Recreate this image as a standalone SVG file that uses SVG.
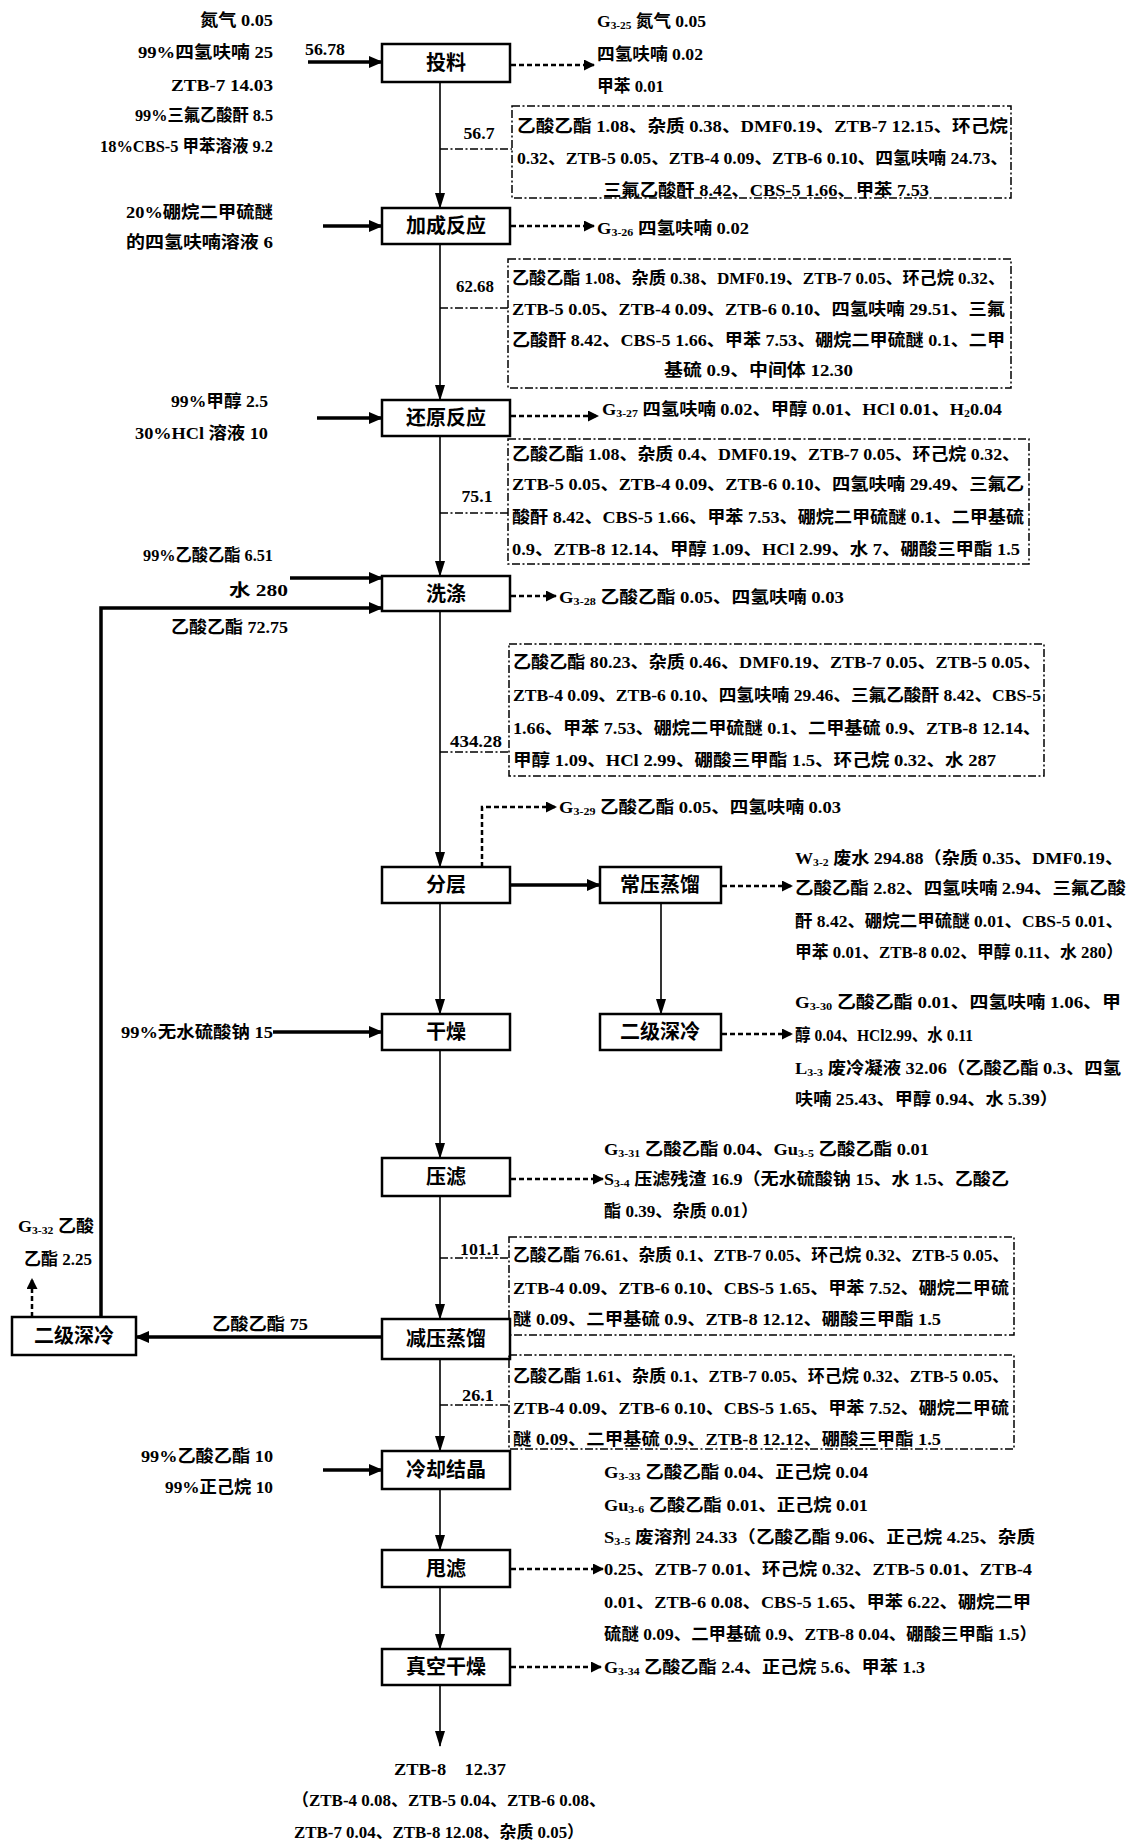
<svg xmlns="http://www.w3.org/2000/svg" width="1130" height="1843" viewBox="0 0 1130 1843">
<style>
text{font-family:"Liberation Serif","Noto Sans CJK SC",serif;font-weight:bold;font-size:17px;fill:#000;dominant-baseline:central}
.b{font-size:20px;text-anchor:middle}
.e{text-anchor:end}
.m{text-anchor:middle}
.s{font-size:11px}
.box{fill:#fff;stroke:#000;stroke-width:2.5}
.dd{fill:none;stroke:#000;stroke-width:1.5;stroke-dasharray:8 2.5 2 2.5}
.sol{fill:none;stroke:#000;stroke-width:3.5}
.thin{fill:none;stroke:#000;stroke-width:1.6}
.dash{fill:none;stroke:#000;stroke-width:2.5;stroke-dasharray:5 3}
</style>
<defs>
<marker id="ah" markerUnits="userSpaceOnUse" markerWidth="14" markerHeight="12" refX="13" refY="6" orient="auto"><path d="M0,0 L14,6 L0,12 z" fill="#000"/></marker>
<marker id="av" markerUnits="userSpaceOnUse" markerWidth="16" markerHeight="10" refX="15" refY="5" orient="auto"><path d="M0,0 L16,5 L0,10 z" fill="#000"/></marker>
<marker id="ad" markerUnits="userSpaceOnUse" markerWidth="11" markerHeight="11" refX="10" refY="5.5" orient="auto"><path d="M0,0 L11,5.5 L0,11 z" fill="#000"/></marker>
</defs>
<rect width="1130" height="1843" fill="#fff"/>

<g id="connectors">
<line class="thin" x1="440" y1="82" x2="440" y2="208" marker-end="url(#av)"/>
<line class="thin" x1="440" y1="244" x2="440" y2="400" marker-end="url(#av)"/>
<line class="thin" x1="440" y1="436" x2="440" y2="576" marker-end="url(#av)"/>
<line class="thin" x1="440" y1="611" x2="440" y2="867" marker-end="url(#av)"/>
<line class="thin" x1="440" y1="903" x2="440" y2="1014" marker-end="url(#av)"/>
<line class="thin" x1="440" y1="1050" x2="440" y2="1158" marker-end="url(#av)"/>
<line class="thin" x1="440" y1="1196" x2="440" y2="1319" marker-end="url(#av)"/>
<line class="thin" x1="440" y1="1359" x2="440" y2="1451" marker-end="url(#av)"/>
<line class="thin" x1="440" y1="1489" x2="440" y2="1550" marker-end="url(#av)"/>
<line class="thin" x1="440" y1="1587" x2="440" y2="1649" marker-end="url(#av)"/>
<line class="thin" x1="440" y1="1685" x2="440" y2="1746" marker-end="url(#av)"/>
<line class="thin" x1="661" y1="903" x2="661" y2="1014" marker-end="url(#av)"/>
<line class="sol" x1="308" y1="62" x2="382" y2="62" marker-end="url(#ah)"/>
<line class="sol" x1="323" y1="226" x2="382" y2="226" marker-end="url(#ah)"/>
<line class="sol" x1="317" y1="418" x2="382" y2="418" marker-end="url(#ah)"/>
<line class="sol" x1="290" y1="578" x2="382" y2="578" marker-end="url(#ah)"/>
<path class="sol" d="M101,1317 V608 H382" marker-end="url(#ah)"/>
<line class="sol" x1="273" y1="1032" x2="382" y2="1032" marker-end="url(#ah)"/>
<line class="sol" x1="323" y1="1470" x2="382" y2="1470" marker-end="url(#ah)"/>
<line class="sol" x1="510" y1="885" x2="600" y2="885" marker-end="url(#ah)"/>
<line class="sol" x1="382" y1="1337" x2="136" y2="1337" marker-end="url(#ah)"/>
<line class="dash" x1="511" y1="65" x2="594" y2="65" marker-end="url(#ad)"/>
<line class="dash" x1="511" y1="226" x2="594" y2="226" marker-end="url(#ad)"/>
<line class="dash" x1="511" y1="416" x2="598" y2="416" marker-end="url(#ad)"/>
<line class="dash" x1="511" y1="596" x2="556" y2="596" marker-end="url(#ad)"/>
<path class="dash" d="M482,867 V807 H556" marker-end="url(#ad)"/>
<line class="dash" x1="722" y1="886" x2="792" y2="886" marker-end="url(#ad)"/>
<line class="dash" x1="722" y1="1034" x2="792" y2="1034" marker-end="url(#ad)"/>
<line class="dash" x1="511" y1="1179" x2="603" y2="1179" marker-end="url(#ad)"/>
<line class="dash" x1="32" y1="1317" x2="32" y2="1279" marker-end="url(#ad)"/>
<line class="dash" x1="511" y1="1569" x2="603" y2="1569" marker-end="url(#ad)"/>
<line class="dash" x1="511" y1="1667" x2="601" y2="1667" marker-end="url(#ad)"/>
<line class="dd" x1="440" y1="149" x2="512" y2="149"/>
<line class="dd" x1="440" y1="308" x2="508" y2="308"/>
<line class="dd" x1="440" y1="513" x2="508" y2="513"/>
<line class="dd" x1="440" y1="752" x2="509" y2="752"/>
<line class="dd" x1="440" y1="1258" x2="509" y2="1258"/>
<line class="dd" x1="440" y1="1405" x2="509" y2="1405"/>
</g>

<g id="flow-labels">
<text x="325" y="49" class="m" textLength="40" lengthAdjust="spacingAndGlyphs">56.78</text>
<text x="479" y="133" class="m" textLength="31" lengthAdjust="spacingAndGlyphs">56.7</text>
<text x="475" y="286" class="m" textLength="38" lengthAdjust="spacingAndGlyphs">62.68</text>
<text x="477" y="496" class="m" textLength="31" lengthAdjust="spacingAndGlyphs">75.1</text>
<text x="476" y="741" class="m" textLength="52" lengthAdjust="spacingAndGlyphs">434.28</text>
<text x="480" y="1249" class="m" textLength="40" lengthAdjust="spacingAndGlyphs">101.1</text>
<text x="478" y="1395" class="m" textLength="32" lengthAdjust="spacingAndGlyphs">26.1</text>
</g>

<g id="n-touliao">
<rect class="box" x="382" y="44" width="128" height="38"/>
<text class="b" x="446" y="63">投料</text>
</g>
<g id="in-touliao">
<text class="e" x="273" y="20" textLength="73" lengthAdjust="spacingAndGlyphs">氮气 0.05</text>
<text class="e" x="273" y="52" textLength="135" lengthAdjust="spacingAndGlyphs">99%四氢呋喃 25</text>
<text class="e" x="273" y="85" textLength="102" lengthAdjust="spacingAndGlyphs">ZTB-7  14.03</text>
<text class="e" x="273" y="115" textLength="138" lengthAdjust="spacingAndGlyphs">99%三氟乙酸酐 8.5</text>
<text class="e" x="273" y="146" textLength="173" lengthAdjust="spacingAndGlyphs">18%CBS-5 甲苯溶液 9.2</text>
</g>
<g id="g325">
<text x="597" y="21" textLength="109" lengthAdjust="spacingAndGlyphs">G<tspan class="s" dy="4">3-25</tspan><tspan dy="-4"> 氮气 0.05</tspan></text>
<text x="597" y="54" textLength="106" lengthAdjust="spacingAndGlyphs">四氢呋喃 0.02</text>
<text x="597" y="86" textLength="67" lengthAdjust="spacingAndGlyphs">甲苯 0.01</text>
</g>
<g id="comp1">
<rect class="dd" x="512" y="106" width="499" height="92"/>
<text x="517" y="126" textLength="491" lengthAdjust="spacingAndGlyphs">乙酸乙酯 1.08、杂质 0.38、DMF0.19、ZTB-7 12.15、环己烷</text>
<text x="517" y="158" textLength="491" lengthAdjust="spacingAndGlyphs">0.32、ZTB-5 0.05、ZTB-4 0.09、ZTB-6 0.10、四氢呋喃 24.73、</text>
<text x="603" y="190" textLength="326" lengthAdjust="spacingAndGlyphs">三氟乙酸酐 8.42、CBS-5 1.66、甲苯 7.53</text>
</g>

<g id="n-jiacheng">
<rect class="box" x="382" y="208" width="128" height="36"/>
<text class="b" x="446" y="226">加成反应</text>
</g>
<g id="in-jiacheng">
<text class="e" x="273" y="212" textLength="147" lengthAdjust="spacingAndGlyphs">20%硼烷二甲硫醚</text>
<text class="e" x="273" y="242" textLength="147" lengthAdjust="spacingAndGlyphs">的四氢呋喃溶液 6</text>
</g>
<g id="g326">
<text x="597" y="228" textLength="152" lengthAdjust="spacingAndGlyphs">G<tspan class="s" dy="4">3-26</tspan><tspan dy="-4"> 四氢呋喃 0.02</tspan></text>
</g>
<g id="comp2">
<rect class="dd" x="508" y="259" width="503" height="129"/>
<text x="512" y="278" textLength="493" lengthAdjust="spacingAndGlyphs">乙酸乙酯 1.08、杂质 0.38、DMF0.19、ZTB-7 0.05、环己烷 0.32、</text>
<text x="512" y="309" textLength="493" lengthAdjust="spacingAndGlyphs">ZTB-5 0.05、ZTB-4 0.09、ZTB-6 0.10、四氢呋喃 29.51、三氟</text>
<text x="512" y="340" textLength="493" lengthAdjust="spacingAndGlyphs">乙酸酐 8.42、CBS-5 1.66、甲苯 7.53、硼烷二甲硫醚 0.1、二甲</text>
<text x="664" y="370" textLength="189" lengthAdjust="spacingAndGlyphs">基硫 0.9、中间体 12.30</text>
</g>

<g id="n-huanyuan">
<rect class="box" x="382" y="400" width="128" height="36"/>
<text class="b" x="446" y="418">还原反应</text>
</g>
<g id="in-huanyuan">
<text class="e" x="268" y="401" textLength="97" lengthAdjust="spacingAndGlyphs">99%甲醇 2.5</text>
<text class="e" x="268" y="433" textLength="133" lengthAdjust="spacingAndGlyphs">30%HCl 溶液 10</text>
</g>
<g id="g327">
<text x="602" y="409" textLength="400" lengthAdjust="spacingAndGlyphs">G<tspan class="s" dy="4">3-27</tspan><tspan dy="-4"> 四氢呋喃 0.02、甲醇 0.01、HCl 0.01、H</tspan><tspan class="s" dy="4">2</tspan><tspan dy="-4">0.04</tspan></text>
</g>
<g id="comp3">
<rect class="dd" x="508" y="439" width="521" height="125"/>
<text x="512" y="454" textLength="508" lengthAdjust="spacingAndGlyphs">乙酸乙酯 1.08、杂质 0.4、DMF0.19、ZTB-7 0.05、环己烷 0.32、</text>
<text x="512" y="484" textLength="512" lengthAdjust="spacingAndGlyphs">ZTB-5 0.05、ZTB-4 0.09、ZTB-6 0.10、四氢呋喃 29.49、三氟乙</text>
<text x="512" y="517" textLength="512" lengthAdjust="spacingAndGlyphs">酸酐 8.42、CBS-5 1.66、甲苯 7.53、硼烷二甲硫醚 0.1、二甲基硫</text>
<text x="512" y="549" textLength="508" lengthAdjust="spacingAndGlyphs">0.9、ZTB-8 12.14、甲醇 1.09、HCl 2.99、水 7、硼酸三甲酯 1.5</text>
</g>

<g id="n-xidi">
<rect class="box" x="382" y="576" width="128" height="35"/>
<text class="b" x="446" y="594">洗涤</text>
</g>
<g id="in-xidi">
<text class="e" x="273" y="555" textLength="130" lengthAdjust="spacingAndGlyphs">99%乙酸乙酯 6.51</text>
<text class="e" x="288" y="590" textLength="59" lengthAdjust="spacingAndGlyphs">水 280</text>
<text class="e" x="288" y="627" textLength="117" lengthAdjust="spacingAndGlyphs">乙酸乙酯 72.75</text>
</g>
<g id="g328">
<text x="559" y="597" textLength="285" lengthAdjust="spacingAndGlyphs">G<tspan class="s" dy="4">3-28</tspan><tspan dy="-4"> 乙酸乙酯 0.05、四氢呋喃 0.03</tspan></text>
</g>
<g id="comp4">
<rect class="dd" x="509" y="644" width="535" height="132"/>
<text x="513" y="662" textLength="528" lengthAdjust="spacingAndGlyphs">乙酸乙酯 80.23、杂质 0.46、DMF0.19、ZTB-7 0.05、ZTB-5 0.05、</text>
<text x="513" y="695" textLength="528" lengthAdjust="spacingAndGlyphs">ZTB-4 0.09、ZTB-6 0.10、四氢呋喃 29.46、三氟乙酸酐 8.42、CBS-5</text>
<text x="513" y="728" textLength="528" lengthAdjust="spacingAndGlyphs">1.66、甲苯 7.53、硼烷二甲硫醚 0.1、二甲基硫 0.9、ZTB-8 12.14、</text>
<text x="513" y="760" textLength="483" lengthAdjust="spacingAndGlyphs">甲醇 1.09、HCl 2.99、硼酸三甲酯 1.5、环己烷 0.32、水 287</text>
</g>
<g id="g329">
<text x="559" y="807" textLength="282" lengthAdjust="spacingAndGlyphs">G<tspan class="s" dy="4">3-29</tspan><tspan dy="-4"> 乙酸乙酯 0.05、四氢呋喃 0.03</tspan></text>
</g>

<g id="n-fenceng">
<rect class="box" x="382" y="867" width="128" height="36"/>
<text class="b" x="446" y="885">分层</text>
</g>
<g id="n-changya">
<rect class="box" x="600" y="867" width="121" height="36"/>
<text class="b" x="660" y="885">常压蒸馏</text>
</g>
<g id="w32">
<text x="795" y="858" textLength="328" lengthAdjust="spacingAndGlyphs">W<tspan class="s" dy="4">3-2</tspan><tspan dy="-4"> 废水 294.88（杂质 0.35、DMF0.19、</tspan></text>
<text x="795" y="888" textLength="331" lengthAdjust="spacingAndGlyphs">乙酸乙酯 2.82、四氢呋喃 2.94、三氟乙酸</text>
<text x="795" y="921" textLength="328" lengthAdjust="spacingAndGlyphs">酐 8.42、硼烷二甲硫醚 0.01、CBS-5 0.01、</text>
<text x="795" y="952" textLength="328" lengthAdjust="spacingAndGlyphs">甲苯 0.01、ZTB-8 0.02、甲醇 0.11、水 280）</text>
</g>

<g id="n-ganzao">
<rect class="box" x="382" y="1014" width="128" height="36"/>
<text class="b" x="446" y="1032">干燥</text>
</g>
<g id="in-ganzao">
<text class="e" x="273" y="1032" textLength="152" lengthAdjust="spacingAndGlyphs">99%无水硫酸钠 15</text>
</g>
<g id="n-shenleng1">
<rect class="box" x="600" y="1014" width="121" height="36"/>
<text class="b" x="660" y="1032">二级深冷</text>
</g>
<g id="g330">
<text x="795" y="1002" textLength="326" lengthAdjust="spacingAndGlyphs">G<tspan class="s" dy="4">3-30</tspan><tspan dy="-4"> 乙酸乙酯 0.01、四氢呋喃 1.06、甲</tspan></text>
<text x="795" y="1035" textLength="178" lengthAdjust="spacingAndGlyphs">醇 0.04、HCl2.99、水 0.11</text>
<text x="795" y="1068" textLength="326" lengthAdjust="spacingAndGlyphs">L<tspan class="s" dy="4">3-3</tspan><tspan dy="-4"> 废冷凝液 32.06（乙酸乙酯 0.3、四氢</tspan></text>
<text x="795" y="1099" textLength="263" lengthAdjust="spacingAndGlyphs">呋喃 25.43、甲醇 0.94、水 5.39）</text>
</g>

<g id="n-yalv">
<rect class="box" x="382" y="1158" width="128" height="38"/>
<text class="b" x="446" y="1177">压滤</text>
</g>
<g id="g331">
<text x="604" y="1149" textLength="325" lengthAdjust="spacingAndGlyphs">G<tspan class="s" dy="4">3-31</tspan><tspan dy="-4"> 乙酸乙酯 0.04、Gu</tspan><tspan class="s" dy="4">3-5</tspan><tspan dy="-4"> 乙酸乙酯 0.01</tspan></text>
<text x="604" y="1179" textLength="405" lengthAdjust="spacingAndGlyphs">S<tspan class="s" dy="4">3-4</tspan><tspan dy="-4"> 压滤残渣 16.9（无水硫酸钠 15、水 1.5、乙酸乙</tspan></text>
<text x="604" y="1211" textLength="154" lengthAdjust="spacingAndGlyphs">酯 0.39、杂质 0.01）</text>
</g>
<g id="comp5">
<rect class="dd" x="509" y="1237" width="505" height="98"/>
<text x="513" y="1255" textLength="496" lengthAdjust="spacingAndGlyphs">乙酸乙酯 76.61、杂质 0.1、ZTB-7 0.05、环己烷 0.32、ZTB-5 0.05、</text>
<text x="513" y="1288" textLength="496" lengthAdjust="spacingAndGlyphs">ZTB-4 0.09、ZTB-6 0.10、CBS-5 1.65、甲苯 7.52、硼烷二甲硫</text>
<text x="513" y="1319" textLength="428" lengthAdjust="spacingAndGlyphs">醚 0.09、二甲基硫 0.9、ZTB-8 12.12、硼酸三甲酯 1.5</text>
</g>

<g id="n-jianya">
<rect class="box" x="382" y="1319" width="128" height="40"/>
<text class="b" x="446" y="1339">减压蒸馏</text>
</g>
<g id="n-shenleng2">
<rect class="box" x="12" y="1317" width="124" height="38"/>
<text class="b" x="74" y="1336">二级深冷</text>
</g>
<g id="recycle-labels">
<text class="m" x="260" y="1324" textLength="96" lengthAdjust="spacingAndGlyphs">乙酸乙酯 75</text>
<text x="18" y="1226" textLength="76" lengthAdjust="spacingAndGlyphs">G<tspan class="s" dy="4">3-32</tspan><tspan dy="-4"> 乙酸</tspan></text>
<text x="24" y="1259" textLength="68" lengthAdjust="spacingAndGlyphs">乙酯 2.25</text>
</g>
<g id="comp6">
<rect class="dd" x="509" y="1355" width="505" height="94"/>
<text x="513" y="1376" textLength="496" lengthAdjust="spacingAndGlyphs">乙酸乙酯 1.61、杂质 0.1、ZTB-7 0.05、环己烷 0.32、ZTB-5 0.05、</text>
<text x="513" y="1408" textLength="496" lengthAdjust="spacingAndGlyphs">ZTB-4 0.09、ZTB-6 0.10、CBS-5 1.65、甲苯 7.52、硼烷二甲硫</text>
<text x="513" y="1439" textLength="428" lengthAdjust="spacingAndGlyphs">醚 0.09、二甲基硫 0.9、ZTB-8 12.12、硼酸三甲酯 1.5</text>
</g>

<g id="n-lengque">
<rect class="box" x="382" y="1451" width="128" height="38"/>
<text class="b" x="446" y="1470">冷却结晶</text>
</g>
<g id="in-lengque">
<text class="e" x="273" y="1456" textLength="132" lengthAdjust="spacingAndGlyphs">99%乙酸乙酯 10</text>
<text class="e" x="273" y="1487" textLength="108" lengthAdjust="spacingAndGlyphs">99%正己烷 10</text>
</g>
<g id="g333">
<text x="604" y="1472" textLength="264" lengthAdjust="spacingAndGlyphs">G<tspan class="s" dy="4">3-33</tspan><tspan dy="-4"> 乙酸乙酯 0.04、正己烷 0.04</tspan></text>
<text x="604" y="1505" textLength="264" lengthAdjust="spacingAndGlyphs">Gu<tspan class="s" dy="4">3-6</tspan><tspan dy="-4"> 乙酸乙酯 0.01、正己烷 0.01</tspan></text>
<text x="604" y="1537" textLength="431" lengthAdjust="spacingAndGlyphs">S<tspan class="s" dy="4">3-5</tspan><tspan dy="-4"> 废溶剂 24.33（乙酸乙酯 9.06、正己烷 4.25、杂质</tspan></text>
<text x="604" y="1569" textLength="428" lengthAdjust="spacingAndGlyphs">0.25、ZTB-7 0.01、环己烷 0.32、ZTB-5 0.01、ZTB-4</text>
<text x="604" y="1602" textLength="427" lengthAdjust="spacingAndGlyphs">0.01、ZTB-6 0.08、CBS-5 1.65、甲苯 6.22、硼烷二甲</text>
<text x="604" y="1634" textLength="433" lengthAdjust="spacingAndGlyphs">硫醚 0.09、二甲基硫 0.9、ZTB-8 0.04、硼酸三甲酯 1.5）</text>
</g>

<g id="n-shuailv">
<rect class="box" x="382" y="1550" width="128" height="37"/>
<text class="b" x="446" y="1569">甩滤</text>
</g>
<g id="n-zhenkong">
<rect class="box" x="382" y="1649" width="128" height="36"/>
<text class="b" x="446" y="1667">真空干燥</text>
</g>
<g id="g334">
<text x="604" y="1667" textLength="321" lengthAdjust="spacingAndGlyphs">G<tspan class="s" dy="4">3-34</tspan><tspan dy="-4"> 乙酸乙酯 2.4、正己烷 5.6、甲苯 1.3</tspan></text>
</g>
<g id="product">
<text class="m" x="450" y="1769" textLength="112" lengthAdjust="spacingAndGlyphs" xml:space="preserve">ZTB-8    12.37</text>
<text class="m" x="449" y="1800" textLength="314" lengthAdjust="spacingAndGlyphs">（ZTB-4 0.08、ZTB-5 0.04、ZTB-6 0.08、</text>
<text class="m" x="439" y="1832" textLength="290" lengthAdjust="spacingAndGlyphs">ZTB-7 0.04、ZTB-8 12.08、杂质 0.05）</text>
</g>
</svg>
